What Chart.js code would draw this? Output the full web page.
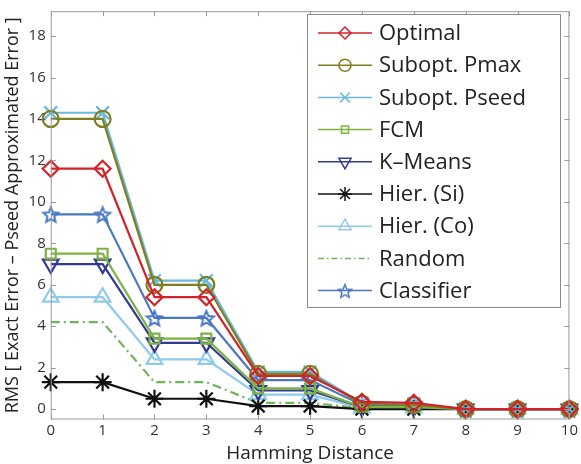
<!DOCTYPE html>
<html>
<script src="https://cdn.jsdelivr.net/npm/chart.js@4.4.1/dist/chart.umd.min.js"></script>
<body style="margin:0;background:#fff">

<div style="width:581px;height:464px"><canvas id="myChart"></canvas></div>

<script>

    const xValues = ["0","1","2","3","4","5","6","7","8","9","10"];
    const seriesNames = ["Optimal", "Subopt. Pmax", "Subopt. Pseed", "FCM", "K\u2013Means", "Hier. (Si)", "Hier. (Co)", "Random", "Classifier"];
    const optimal    = [11.6, 11.6, 5.4, 5.4, 1.6, 1.6, 0.35, 0.3, 0, 0, 0];
    const suboptPmax = [14.0, 14.0, 6.0, 6.0, 1.7, 1.7, 0.25, 0.2, 0, 0, 0];
    const suboptPseed= [14.3, 14.3, 6.2, 6.2, 1.8, 1.8, 0.3, 0.25, 0, 0, 0];
    const fcm        = [7.5, 7.5, 3.4, 3.4, 1.0, 1.0, 0.1, 0.1, 0, 0, 0];
    const kMeans     = [7.0, 7.0, 3.2, 3.2, 0.9, 0.9, 0.1, 0.1, 0, 0, 0];
    const hierSi     = [1.3, 1.3, 0.5, 0.5, 0.15, 0.15, 0.0, 0.0, 0, 0, 0];
    const hierCo     = [5.4, 5.4, 2.4, 2.4, 0.7, 0.7, 0.05, 0.05, 0, 0, 0];
    const random     = [4.2, 4.2, 1.3, 1.3, 0.3, 0.3, 0.05, 0.05, 0, 0, 0];
    const classifier = [9.4, 9.4, 4.4, 4.4, 1.4, 1.4, 0.2, 0.2, 0, 0, 0];
    const yTicks = [0, 2, 4, 6, 8, 10, 12, 14, 16, 18];

    const colors = ["#d2232a", "#7f7f1e", "#6bb8e0", "#7cb342", "#333a94", "#111111", "#8fcbe8", "#6fb35a", "#4a78c0"];

    // pentagram marker for the classifier line
    function starCanvas(r, color, lw) {
        const c = document.createElement("canvas");
        const s = Math.ceil(r * 2 + 4);
        c.width = s; c.height = s;
        const g = c.getContext("2d");
        g.strokeStyle = color;
        g.lineWidth = lw;
        g.beginPath();
        for (let i = 0; i < 10; i++) {
            const rr = i % 2 === 0 ? r : r * 0.45;
            const a = -Math.PI / 2 + i * Math.PI / 5;
            const px = s / 2 + rr * Math.cos(a), py = s / 2 + 1 + rr * Math.sin(a);
            if (i === 0) g.moveTo(px, py); else g.lineTo(px, py);
        }
        g.closePath();
        g.stroke();
        return c;
    }

    const styles = [
        {pointStyle: "rectRot", radius: 8},
        {pointStyle: "circle", radius: 8},
        {pointStyle: "crossRot", radius: 9},
        {pointStyle: "rect", radius: 7},
        {pointStyle: "triangle", radius: 9, rotation: 180},
        {pointStyle: "star", radius: 9},
        {pointStyle: "triangle", radius: 9},
        {pointStyle: false, radius: 0},
        {pointStyle: starCanvas(8, colors[8], 2), radius: 8}
    ];
    const legendStyles = [
        {pointStyle: "rectRot", radius: 6},
        {pointStyle: "circle", radius: 6},
        {pointStyle: "crossRot", radius: 7},
        {pointStyle: "rect", radius: 5},
        {pointStyle: "triangle", radius: 7, rotation: 180},
        {pointStyle: "star", radius: 7},
        {pointStyle: "triangle", radius: 7},
        {pointStyle: false, radius: 0},
        {pointStyle: starCanvas(7, colors[8], 1.5), radius: 7}
    ];

    const allData = [optimal, suboptPmax, suboptPseed, fcm, kMeans, hierSi, hierCo, random, classifier];

    const datasets = allData.map((d, i) => ({
        label: seriesNames[i],
        data: d,
        borderColor: colors[i],
        backgroundColor: "transparent",
        borderWidth: 2.2,
        borderDash: i === 7 ? [9, 4, 2, 4] : [],
        pointStyle: styles[i].pointStyle,
        pointRadius: styles[i].radius,
        pointRotation: styles[i].rotation || 0,
        pointBorderWidth: 2.2,
        pointBorderColor: colors[i],
        pointBackgroundColor: "transparent",
        tension: 0
    }));

    // MATLAB-like box with inward ticks and in-plot legend
    const boxPlugin = {
        id: "box",
        afterDraw(chart) {
            const ctx = chart.ctx;
            const a = chart.chartArea;
            const xs = chart.scales.x, ys = chart.scales.y;
            ctx.save();
            ctx.strokeStyle = "#9a9a9a";
            ctx.lineWidth = 1;
            ctx.strokeRect(a.left + 0.5, a.top + 0.5, a.right - a.left - 1, a.bottom - a.top - 1);
            ctx.beginPath();
            xValues.forEach((v, i) => {
                const px = Math.round(xs.getPixelForValue(i)) + 0.5;
                ctx.moveTo(px, a.bottom); ctx.lineTo(px, a.bottom - 5);
                ctx.moveTo(px, a.top); ctx.lineTo(px, a.top + 5);
            });
            yTicks.forEach(v => {
                const py = Math.round(ys.getPixelForValue(v)) + 0.5;
                ctx.moveTo(a.left, py); ctx.lineTo(a.left + 5, py);
                ctx.moveTo(a.right, py); ctx.lineTo(a.right - 5, py);
            });
            ctx.stroke();

            // legend
            const lx = 307, ly = 14, lw = 253, lh = 293;
            ctx.fillStyle = "#fff";
            ctx.fillRect(lx, ly, lw, lh);
            ctx.strokeStyle = "#8a8a8a";
            ctx.strokeRect(lx + 0.5, ly + 0.5, lw, lh);
            ctx.font = "22px 'Open Sans'";
            ctx.textBaseline = "middle";
            seriesNames.forEach((name, i) => {
                const y = 33 + i * 32.2;
                ctx.strokeStyle = colors[i];
                ctx.lineWidth = 1.5;
                ctx.setLineDash(i === 7 ? [6, 3, 1.5, 3] : []);
                ctx.beginPath();
                ctx.moveTo(318, y); ctx.lineTo(372, y);
                ctx.stroke();
                ctx.setLineDash([]);
                const st = legendStyles[i];
                if (st.pointStyle) {
                    ctx.fillStyle = "rgba(0,0,0,0)";
                    ctx.lineWidth = 1.5;
                    Chart.helpers.drawPoint(ctx, {pointStyle: st.pointStyle, radius: st.radius, rotation: st.rotation || 0, borderWidth: 1.5}, 345, y);
                }
                ctx.fillStyle = "#222";
                ctx.fillText(name, 379, y + 1);
            });
            ctx.restore();
        }
    };

    const myChart = document.getElementById("myChart");
    const chart = new Chart(myChart, {
        type: "line",
        data: {
            labels: xValues,
            datasets: datasets
        },
        plugins: [boxPlugin],
        options: {
            responsive: true,
            maintainAspectRatio: false,
            animation: false,
            layout: {padding: {top: 4, right: 5, left: 2, bottom: 1}},
            plugins: {
                legend: {display: false},
                tooltip: {enabled: false}
            },
            scales: {
                x: {
                    offset: false,
                    grid: {display: false, drawTicks: false},
                    border: {display: false},
                    ticks: {color: "#333", font: {family: "Open Sans", size: 15, lineHeight: 1.1}, maxRotation: 0, padding: 3},
                    title: {display: true, text: "Hamming Distance", color: "#222", font: {family: "Open Sans", size: 19, lineHeight: 1.0}, padding: {top: 2, bottom: 0}}
                },
                y: {
                    min: -0.5,
                    max: 19.2,
                    grid: {display: false, drawTicks: false},
                    border: {display: false},
                    afterBuildTicks: (s) => { s.ticks = yTicks.map(v => ({value: v})); },
                    afterFit: (s) => { s.paddingTop = 0; s.paddingBottom = 0; },
                    ticks: {color: "#333", font: {family: "Open Sans", size: 15}, padding: 5},
                    title: {display: true, text: "RMS [ Exact Error \u2013 Pseed Approximated Error ]", color: "#222", font: {family: "Open Sans", size: 18}, padding: {top: 0, bottom: 0}}
                }
            }
        }
    });

</script>

</body>
</html>
